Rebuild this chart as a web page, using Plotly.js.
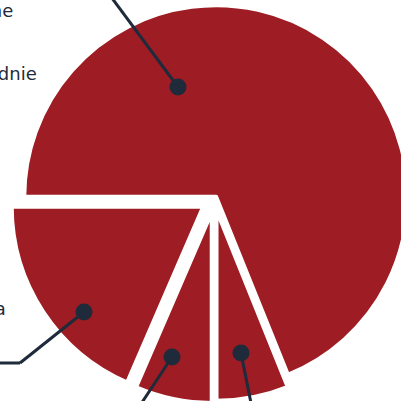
<!DOCTYPE html>
<html>
<head>
<meta charset="utf-8">
<script src="https://cdn.plot.ly/plotly-3.0.1.min.js"></script>
<style>
html,body{margin:0;padding:0;width:401px;height:401px;overflow:hidden;background:#fff;}
#wrap{position:absolute;left:0;top:0;width:401px;height:401px;overflow:hidden;}
#chart{position:absolute;}
</style>
</head>
<body>
<div id="wrap"><div id="chart"></div></div>
<script>
// ---- data ----
var categories = ["Pozytywne", "Neutralne", "Inne", "Negatywna"];
var values = [68.9, 6.1, 6.5, 18.5];
var labelTexts = ["Pozytywne", "Odpowiednie", "Negatywna"];

// ---- layout helpers (page pixels -> paper) ----
var W = 480, H = 480, L = 40, T = 20;
var chartDiv = document.getElementById('chart');
chartDiv.style.left = (-L) + 'px';
chartDiv.style.top = (-T) + 'px';
chartDiv.style.width = W + 'px';
chartDiv.style.height = H + 'px';
function fx(px){ return (px + L) / W; }
function fy(py){ return 1 - (py + T) / H; }

var pulls = [0.015, 0.051, 0.0625, 0.068];
var R = 192, cxp = 214.4, cyp = 199.4;
var maxPull = Math.max.apply(null, pulls);
var half = R * (1 + maxPull);
var dom = {x: [fx(cxp - half), fx(cxp + half)], y: [fy(cyp + half), fy(cyp - half)]};

var red = '#9e1c23';
var navy = '#1f2a3b';

var trace = {
  type: 'pie',
  labels: categories,
  values: values,
  sort: false,
  direction: 'clockwise',
  rotation: 270,
  pull: pulls,
  textinfo: 'none',
  hoverinfo: 'none',
  showlegend: false,
  domain: dom,
  marker: {colors: categories.map(function(){return red;}), line: {color: '#ffffff', width: 4.5}}
};

function seg(a, b){
  return {type:'line', xref:'paper', yref:'paper', x0:fx(a[0]), y0:fy(a[1]), x1:fx(b[0]), y1:fy(b[1]),
          line:{color:navy, width:3}};
}
function dot(p){
  var r = 8.5;
  return {type:'circle', xref:'paper', yref:'paper', x0:fx(p[0]-r), x1:fx(p[0]+r), y0:fy(p[1]+r), y1:fy(p[1]-r),
          fillcolor:navy, line:{color:navy, width:0}};
}
var dots = [[178,87],[84,312],[172,357],[241,353]];
var shapes = [
  seg([178,87],[100,-18]),
  seg([84,312],[20,363]), seg([20,363],[-40,363]),
  seg([172,357],[135,413]),
  seg([241,353],[253,413])
].concat(dots.map(dot));

function lab(text, xr, yc){
  return {xref:'paper', yref:'paper', x:fx(xr), y:fy(yc), xanchor:'right', yanchor:'middle', showarrow:false,
          text:text, font:{family:'DejaVu Sans, Noto Sans, sans-serif', size:18, color:navy}};
}
var annotations = [lab(labelTexts[0], 15, 11), lab(labelTexts[1], 39, 74), lab(labelTexts[2], 8, 308)];

Plotly.newPlot(chartDiv, [trace], {
  width: W, height: H,
  margin: {l:0, r:0, t:0, b:0},
  paper_bgcolor: '#ffffff',
  showlegend: false,
  shapes: shapes,
  annotations: annotations
}, {staticPlot: true, displayModeBar: false});
</script>
</body>
</html>
